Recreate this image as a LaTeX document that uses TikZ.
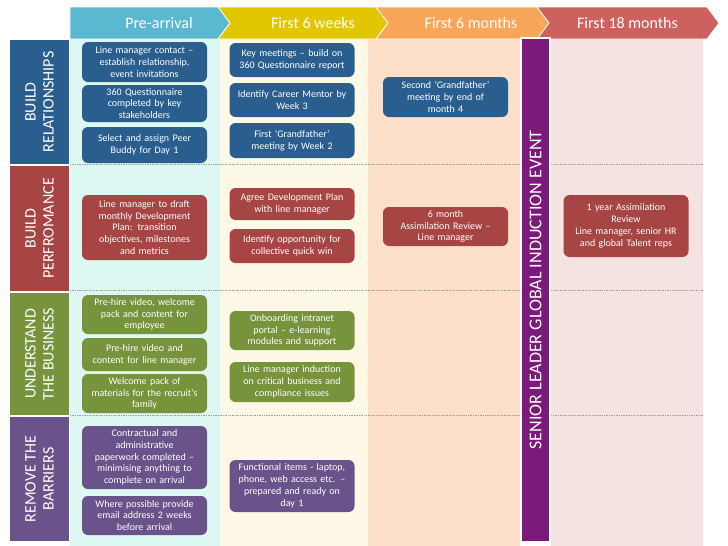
\documentclass[tikz,border=0pt]{standalone}
\usepackage{fontspec}
\setmainfont{Carlito}
\definecolor{relblue}{HTML}{2A5E8F}
\definecolor{perfred}{HTML}{A64543}
\definecolor{busgreen}{HTML}{77933C}
\definecolor{barrpurple}{HTML}{6A538A}
\definecolor{eventpurple}{HTML}{7B1A7A}
\definecolor{hdrblue}{HTML}{5BB8D1}
\definecolor{hdryellow}{HTML}{E2C700}
\definecolor{hdrorange}{HTML}{F9A65A}
\definecolor{hdrred}{HTML}{CD615D}
\definecolor{bgcyan}{HTML}{DDF8F3}
\definecolor{bgyellow}{HTML}{FEF9E7}
\definecolor{bgpeach}{HTML}{FCE0C9}
\definecolor{bgpink}{HTML}{F5E3E2}

\begin{document}
\begin{tikzpicture} [%
    x = 1pt,
    y = -1pt,
    task/.style = {%
      rounded corners = 6pt,
      minimum width = 125pt,
      text width = 121pt,
      inner sep = 2pt,
      align = center,
      text = white,
      font = \fontsize{10}{11.8}\selectfont },
    rowlabel/.style = {%
      rotate = 90,
      minimum height = 59pt,
      inner sep = 0pt,
      align = center,
      text = white,
      font = \fontsize{16}{18}\selectfont },
    phase/.style = {%
      text = white,
      font = \fontsize{16}{18}\selectfont },
    rowsep/.style = {%
      densely dotted,
      line width = 0.7pt,
      draw = gray!75 }
  ]
  \useasboundingbox (0,0) rectangle (728,546);

  % column backgrounds
  \fill[bgcyan]   (70,39)  rectangle (220,546);
  \fill[bgyellow] (220,39) rectangle (368,546);
  \fill[bgpeach]  (368,39) rectangle (520,546);
  \fill[bgpink]   (551,39) rectangle (703,546);

  % header chevrons
  \filldraw[hdrblue, draw=white, line width=0.8pt]
    (70,7) -- (218,7) -- (230,23) -- (218,39) -- (70,39) -- cycle;
  \filldraw[hdryellow, draw=white, line width=0.8pt]
    (218,7) -- (376,7) -- (388,23) -- (376,39) -- (218,39) -- (230,23) -- cycle;
  \filldraw[hdrorange, draw=white, line width=0.8pt]
    (376,7) -- (537,7) -- (549,23) -- (537,39) -- (376,39) -- (388,23) -- cycle;
  \filldraw[hdrred, draw=white, line width=0.8pt]
    (537,7) -- (707,7) -- (719,23) -- (707,39) -- (537,39) -- (549,23) -- cycle;

  \node[phase] (pre)  at (159,23)   {Pre-arrival};
  \node[phase] (wk6)  at (313,23)   {First 6 weeks};
  \node[phase] (mo6)  at (471,23)   {First 6 months};
  \node[phase] (mo18) at (627.5,23) {First 18 months};

  % row separators
  \draw[rowsep] (70,164) -- (703,164);
  \draw[rowsep] (70,290) -- (703,290);
  \draw[rowsep] (70,415) -- (703,415);

  % row labels
  \node[rowlabel, fill=relblue,    minimum width=124pt] (rel)  at (39.5,102)   {BUILD\\RELATIONSHIPS};
  \node[rowlabel, fill=perfred,    minimum width=125pt] (perf) at (39.5,228.5) {BUILD\\PERFROMANCE};
  \node[rowlabel, fill=busgreen,   minimum width=122pt] (bus)  at (39.5,354)   {UNDERSTAND\\THE BUSINESS};
  \node[rowlabel, fill=barrpurple, minimum width=124pt] (barr) at (39.5,479)   {REMOVE THE\\BARRIERS};

  % induction event bar
  \node[rotate=90, fill=eventpurple, draw=white, line width=1.5pt,
        minimum width=504pt, minimum height=29pt, inner sep=0pt,
        text=white, font=\fontsize{18}{20}\selectfont]
    (event) at (535.5,290) {SENIOR LEADER GLOBAL INDUCTION EVENT};

  % build relationships
  \node[task, fill=relblue, minimum height=40pt] (relA) at (144.5,62)
    {Line manager contact –\\establish relationship,\\event invitations};
  \node[task, fill=relblue, minimum height=37pt] (relB) at (144.5,103.5)
    {360 Questionnaire\\completed by key\\stakeholders};
  \node[task, fill=relblue, minimum height=36pt] (relC) at (144.5,145)
    {Select and assign Peer\\Buddy for Day 1};
  \node[task, fill=relblue, minimum height=34pt] (relD) at (292,60)
    {Key meetings – build on\\360 Questionnaire report};
  \node[task, fill=relblue, minimum height=34pt] (relE) at (292,100)
    {Identify Career Mentor by\\Week 3};
  \node[task, fill=relblue, minimum height=35pt] (relF) at (292,140.5)
    {First ‘Grandfather’\\meeting by Week 2};
  \node[task, fill=relblue, minimum height=40pt] (relG) at (445.5,97)
    {Second ‘Grandfather’\\meeting by end of\\month 4};

  % build performance
  \node[task, fill=perfred, minimum height=65pt] (perfA) at (144.5,227.5)
    {Line manager to draft\\monthly Development\\Plan: transition\\objectives, milestones\\and metrics};
  \node[task, fill=perfred, minimum height=32pt] (perfB) at (292,204)
    {Agree Development Plan\\with line manager};
  \node[task, fill=perfred, minimum height=34pt] (perfC) at (292,246)
    {Identify opportunity for\\collective quick win};
  \node[task, fill=perfred, minimum height=39pt] (perfD) at (445.5,226.5)
    {6 month\\Assimilation Review –\\Line manager};
  \node[task, fill=perfred, minimum height=62pt] (perfE) at (626,226)
    {1 year Assimilation\\Review\\Line manager, senior HR\\and global Talent reps};

  % understand the business
  \node[task, fill=busgreen, minimum height=39pt] (busA) at (144.5,314.5)
    {Pre-hire video, welcome\\pack and content for\\employee};
  \node[task, fill=busgreen, minimum height=33pt] (busB) at (144.5,354.5)
    {Pre-hire video and\\content for line manager};
  \node[task, fill=busgreen, minimum height=39pt] (busC) at (144.5,393.5)
    {Welcome pack of\\materials for the recruit’s\\family};
  \node[task, fill=busgreen, minimum height=39pt] (busD) at (292,330.5)
    {Onboarding intranet\\portal – e-learning\\modules and support};
  \node[task, fill=busgreen, minimum height=40pt] (busE) at (292,382)
    {Line manager induction\\on critical business and\\compliance issues};

  % remove the barriers
  \node[task, fill=barrpurple, minimum height=63pt] (barrA) at (144.5,457.5)
    {Contractual and\\administrative\\paperwork completed –\\minimising anything to\\complete on arrival};
  \node[task, fill=barrpurple, minimum height=39pt] (barrB) at (144.5,515.5)
    {Where possible provide\\email address 2 weeks\\before arrival};
  \node[task, fill=barrpurple, minimum height=52pt] (barrC) at (292,486)
    {Functional items - laptop,\\phone, web access etc. –\\prepared and ready on\\day 1};

\end{tikzpicture}
\end{document}
